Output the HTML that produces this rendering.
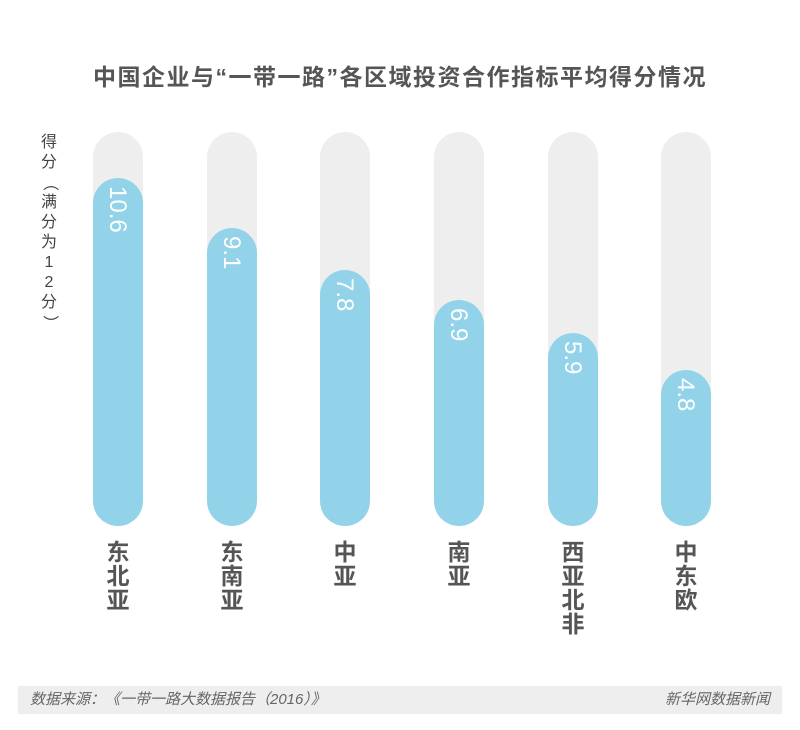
<!DOCTYPE html><html><head><meta charset="utf-8"><style>
body{margin:0;width:800px;height:730px;background:#fff;position:relative;overflow:hidden;font-family:"Liberation Sans","Noto Sans CJK SC",sans-serif}
.t{position:absolute;top:58px;left:0;width:800px;text-align:center;font-size:23px;letter-spacing:1.5px;font-weight:bold;color:#555}
.g{position:absolute;top:132px;width:50px;height:394px;background:#eeeeee;border-radius:25px}
.b{position:absolute;width:50px;background:#93d3ea;border-radius:25px;bottom:204px}
.n{position:absolute;color:#fff;font-size:24px;transform-origin:0 0;transform:rotate(90deg);white-space:nowrap}
.l{position:absolute;top:540px;width:50px;text-align:center;font-size:23px;font-weight:bold;color:#555;line-height:24px}
.y{position:absolute;left:38px;top:133px;width:22px;font-size:16px;color:#444;line-height:20px;text-align:center}
.f{position:absolute;left:18px;top:686px;width:764px;height:28px;background:#eeeeee;font-size:15px;color:#666;font-style:italic;line-height:28px}
</style></head><body>
<div class="t">中国企业与“一带一路”各区域投资合作指标平均得分情况</div>
<div class="y">得<br>分<br><span style="display:inline-block;transform:rotate(90deg)">（</span><br>满<br>分<br>为<br>1<br>2<br>分<br><span style="display:inline-block;transform:rotate(90deg)">）</span></div>

<div class="g" style="left:93px"></div><div class="b" style="left:93px;top:178px"></div><div class="n" style="left:131px;top:186px">10.6</div>
<div class="g" style="left:207px"></div><div class="b" style="left:207px;top:228px"></div><div class="n" style="left:245px;top:236px">9.1</div>
<div class="g" style="left:320px"></div><div class="b" style="left:320px;top:270px"></div><div class="n" style="left:358px;top:278px">7.8</div>
<div class="g" style="left:434px"></div><div class="b" style="left:434px;top:300px"></div><div class="n" style="left:472px;top:308px">6.9</div>
<div class="g" style="left:548px"></div><div class="b" style="left:548px;top:333px"></div><div class="n" style="left:586px;top:341px">5.9</div>
<div class="g" style="left:661px"></div><div class="b" style="left:661px;top:370px"></div><div class="n" style="left:699px;top:378px">4.8</div>

<div class="l" style="left:93px">东<br>北<br>亚</div>
<div class="l" style="left:207px">东<br>南<br>亚</div>
<div class="l" style="left:320px">中<br>亚</div>
<div class="l" style="left:434px">南<br>亚</div>
<div class="l" style="left:548px">西<br>亚<br>北<br>非</div>
<div class="l" style="left:661px">中<br>东<br>欧</div>

<div class="f"><span style="position:absolute;left:12px">数据来源：《一带一路大数据报告（2016）》</span><span style="position:absolute;right:12px">新华网数据新闻</span></div>
</body></html>
